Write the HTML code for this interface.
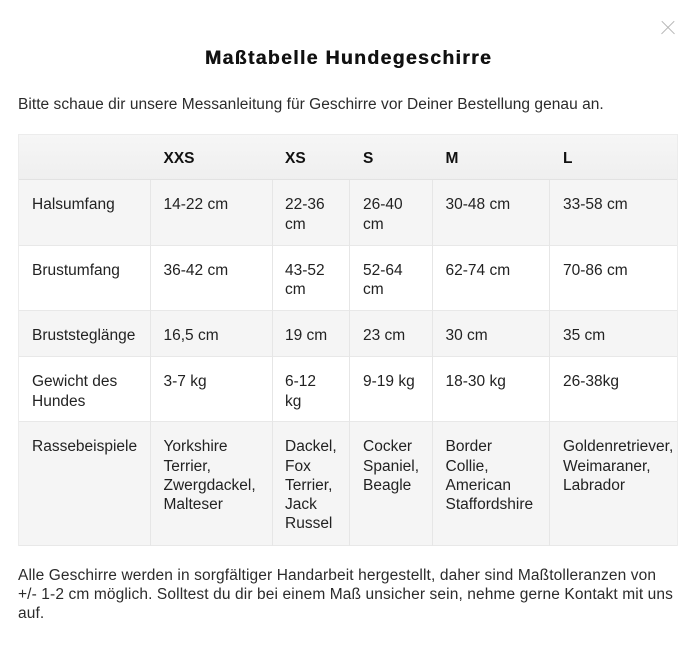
<!DOCTYPE html>
<html>
<head>
<meta charset="utf-8">
<style>
  html,body{margin:0;padding:0;}
  body{width:695px;height:645px;background:#fff;position:relative;overflow:hidden;
    font-family:"Liberation Sans",Arial,sans-serif;color:#2b2b2b;}
  .abs{position:absolute;white-space:nowrap;}
  .title{left:0;width:697px;text-align:center;top:47.5px;font-size:19.5px;line-height:20px;
    font-weight:bold;color:#111;letter-spacing:1.3px;text-shadow:0.4px 0 0 #111;}
  .intro{left:18px;top:94.6px;font-size:15.5px;line-height:20px;color:#2b2b2b;letter-spacing:0.04px;}
  .foot{left:18px;top:565.7px;font-size:15.5px;line-height:19.3px;color:#2b2b2b;letter-spacing:0.12px;}
  .row{position:absolute;left:18px;width:660px;}
  .vl{position:absolute;width:1px;background:#e6e6e6;top:180px;height:366px;}
  .hl{position:absolute;left:18px;width:660px;height:1px;background:#e8e8e8;}
  .c{position:absolute;white-space:nowrap;font-size:15.5px;line-height:19.2px;color:#222;}
  .h{font-weight:bold;color:#111;}
  .x1,.x2{position:absolute;left:659px;top:26.5px;width:18px;height:1.4px;background:#b5b5b5;}
  .x1{transform:rotate(45deg);} .x2{transform:rotate(-45deg);}
</style>
</head>
<body>
<div class="x1"></div><div class="x2"></div>
<div class="abs title">Maßtabelle Hundegeschirre</div>
<div class="abs intro">Bitte schaue dir unsere Messanleitung für Geschirre vor Deiner Bestellung genau an.</div>

<!-- rows -->
<div class="row" style="top:134px;height:46px;background:linear-gradient(#f6f6f6,#efefef);"></div>
<div class="row" style="top:180px;height:66px;background:#f5f5f5;"></div>
<div class="row" style="top:246px;height:65px;background:#ffffff;"></div>
<div class="row" style="top:311px;height:46px;background:#f5f5f5;"></div>
<div class="row" style="top:357px;height:65px;background:#ffffff;"></div>
<div class="row" style="top:422px;height:124px;background:#f5f5f5;"></div>

<!-- borders -->
<div class="hl" style="top:134px;background:#ececec;"></div>
<div class="hl" style="top:179px;background:#e2e2e2;"></div>
<div class="hl" style="top:245px;"></div>
<div class="hl" style="top:310px;"></div>
<div class="hl" style="top:356px;"></div>
<div class="hl" style="top:421px;"></div>
<div class="hl" style="top:545px;"></div>
<div class="vl" style="left:18px;top:134px;height:412px;background:#ececec;"></div>
<div class="vl" style="left:677px;top:134px;height:412px;background:#ececec;"></div>
<div class="vl" style="left:150px;"></div>
<div class="vl" style="left:272px;"></div>
<div class="vl" style="left:349px;"></div>
<div class="vl" style="left:432px;"></div>
<div class="vl" style="left:549px;"></div>

<!-- header -->
<div class="c h" style="left:163.5px;top:149.3px;">XXS</div>
<div class="c h" style="left:285px;top:149.3px;">XS</div>
<div class="c h" style="left:363px;top:149.3px;">S</div>
<div class="c h" style="left:445.5px;top:149.3px;">M</div>
<div class="c h" style="left:563px;top:149.3px;">L</div>

<!-- row 1 -->
<div class="c" style="left:32px;top:195.3px;">Halsumfang</div>
<div class="c" style="left:163.5px;top:195.3px;">14-22 cm</div>
<div class="c" style="left:285px;top:195.3px;">22-36<br>cm</div>
<div class="c" style="left:363px;top:195.3px;">26-40<br>cm</div>
<div class="c" style="left:445.5px;top:195.3px;">30-48 cm</div>
<div class="c" style="left:563px;top:195.3px;">33-58 cm</div>

<!-- row 2 -->
<div class="c" style="left:32px;top:260.5px;">Brustumfang</div>
<div class="c" style="left:163.5px;top:260.5px;">36-42 cm</div>
<div class="c" style="left:285px;top:260.5px;">43-52<br>cm</div>
<div class="c" style="left:363px;top:260.5px;">52-64<br>cm</div>
<div class="c" style="left:445.5px;top:260.5px;">62-74 cm</div>
<div class="c" style="left:563px;top:260.5px;">70-86 cm</div>

<!-- row 3 -->
<div class="c" style="left:32px;top:325.7px;">Bruststeglänge</div>
<div class="c" style="left:163.5px;top:325.7px;">16,5 cm</div>
<div class="c" style="left:285px;top:325.7px;">19 cm</div>
<div class="c" style="left:363px;top:325.7px;">23 cm</div>
<div class="c" style="left:445.5px;top:325.7px;">30 cm</div>
<div class="c" style="left:563px;top:325.7px;">35 cm</div>

<!-- row 4 -->
<div class="c" style="left:32px;top:372.3px;">Gewicht des<br>Hundes</div>
<div class="c" style="left:163.5px;top:372.3px;">3-7 kg</div>
<div class="c" style="left:285px;top:372.3px;">6-12<br>kg</div>
<div class="c" style="left:363px;top:372.3px;">9-19 kg</div>
<div class="c" style="left:445.5px;top:372.3px;">18-30 kg</div>
<div class="c" style="left:563px;top:372.3px;">26-38kg</div>

<!-- row 5 -->
<div class="c" style="left:32px;top:437.3px;">Rassebeispiele</div>
<div class="c" style="left:163.5px;top:437.3px;">Yorkshire<br>Terrier,<br>Zwergdackel,<br>Malteser</div>
<div class="c" style="left:285px;top:437.3px;">Dackel,<br>Fox<br>Terrier,<br>Jack<br>Russel</div>
<div class="c" style="left:363px;top:437.3px;">Cocker<br>Spaniel,<br>Beagle</div>
<div class="c" style="left:445.5px;top:437.3px;">Border<br>Collie,<br>American<br>Staffordshire</div>
<div class="c" style="left:563px;top:437.3px;">Goldenretriever,<br>Weimaraner,<br>Labrador</div>

<div class="abs foot">Alle Geschirre werden in sorgfältiger Handarbeit hergestellt, daher sind Maßtolleranzen von<br>+/- 1-2 cm möglich. Solltest du dir bei einem Maß unsicher sein, nehme gerne Kontakt mit uns<br>auf.</div>
</body>
</html>
